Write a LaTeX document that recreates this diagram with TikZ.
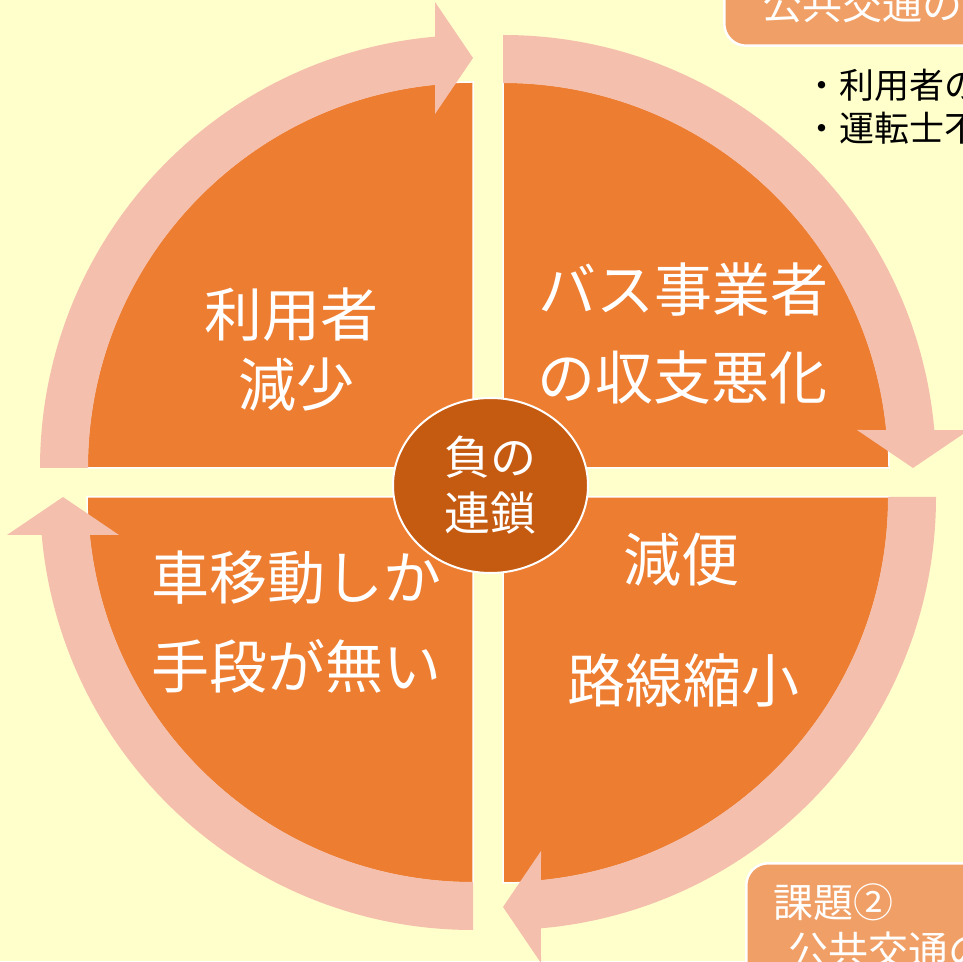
\documentclass[tikz,border=0pt]{standalone}
\usepackage{fontspec}
\setmainfont{Noto Sans CJK JP}
\usetikzlibrary{shapes.geometric}
\definecolor{bgy}{HTML}{FFFFCC}
\definecolor{wedgeor}{HTML}{ED7D31}
\definecolor{arrpink}{RGB}{244,191,173}
\definecolor{centerbr}{HTML}{C55A11}
\definecolor{boxor}{RGB}{240,160,102}
\tikzset{
  wedgeshape/.style={fill=wedgeor, draw=white, line width=1.5pt, line join=miter},
  arrowshape/.style={fill=arrpink, draw=none},
  quadtext/.style={text=white, inner sep=0pt, font=\fontsize{58}{60}\selectfont},
  hubnode/.style={ellipse, fill=centerbr, draw=white, line width=2pt,
    minimum width=195pt, minimum height=175pt, inner sep=0pt,
    text=white, align=center, font=\fontsize{46}{56}\selectfont},
  taskbox/.style={fill=boxor, draw=white, line width=2.5pt, rounded corners=22pt,
    inner sep=0pt},
  boxtext/.style={text=white, inner sep=0pt, anchor=west, font=\fontsize{40}{44}\selectfont},
  bullettext/.style={text=black, inner sep=0pt, anchor=west, font=\fontsize{35}{40}\selectfont}
}
\begin{document}
\begin{tikzpicture}[x=1pt,y=1pt]
\useasboundingbox (0,0) rectangle (963,961);
\clip (0,0) rectangle (963,961);
\fill[bgy] (0,0) rectangle (963,961);

\coordinate (cTL) at (473,493);
\coordinate (cTR) at (503,493);
\coordinate (cBR) at (503,464);
\coordinate (cBL) at (473,464);

% wedges
\foreach \c/\r in {cTR/0, cTL/90, cBL/180, cBR/-90} {
  \begin{scope}[shift={(\c)}, rotate=\r]
    \path[wedgeshape] (0,0) -- (386,0) arc[start angle=0, end angle=90, radius=386] -- cycle;
  \end{scope}
}
% circular arrows
\foreach \c/\r in {cTR/0, cTL/90, cBL/180, cBR/-90} {
  \begin{scope}[shift={(\c)}, rotate=\r]
    \path[arrowshape] (90:385) -- (90:433)
      arc[start angle=90, end angle=5.03, radius=433]
      -- (466,38) -- (410,0) -- (354,38) -- (5.66:385)
      arc[start angle=5.66, end angle=90, radius=385] -- cycle;
  \end{scope}
}

% quadrant texts
\node[quadtext] (tla) at (291,646) {利用者};
\node[quadtext] (tlb) at (296,576) {減少};
\node[quadtext] (tra) at (683,671) {バス事業者};
\node[quadtext] (trb) at (682,583) {の収支悪化};
\node[quadtext] (bla) at (296,383) {車移動しか};
\node[quadtext] (blb) at (296,295) {手段が無い};
\node[quadtext] (bra) at (681,401) {減便};
\node[quadtext] (brb) at (683,281) {路線縮小};

% hub
\node[hubnode] (hub) at (490.5,475.5) {負の\\連鎖};

% task boxes
\node[taskbox, anchor=south west, minimum width=300pt, minimum height=120pt] (boxa) at (723,914) {};
\node[boxtext] (boxat) at (762,957) {公共交通の};
\node[bullettext] (bula) at (804,876) {・利用者の};
\node[bullettext] (bulb) at (804,833) {・運転士不};

\node[taskbox, anchor=north west, minimum width=300pt, minimum height=160pt] (boxb) at (745,99) {};
\node[boxtext] (boxbt) at (773,59) {課題②};
\node[boxtext] (boxbu) at (788,11) {公共交通の};
\end{tikzpicture}
\end{document}
